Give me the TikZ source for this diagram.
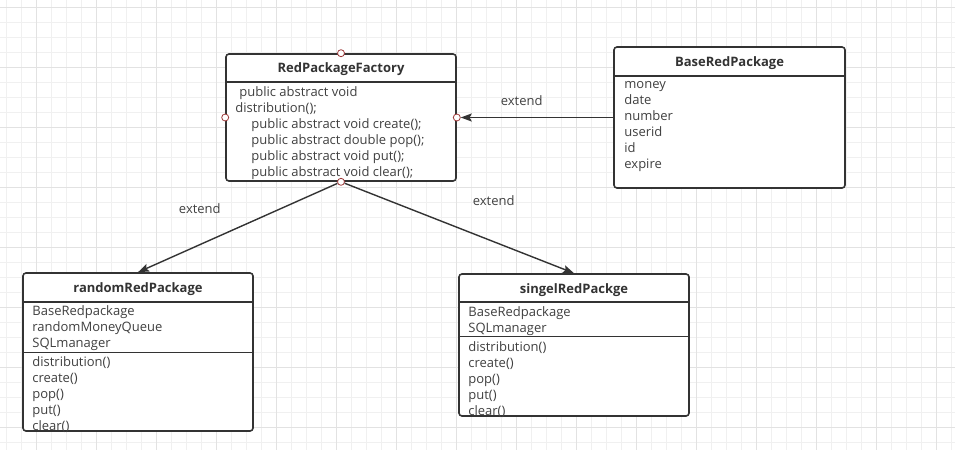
\documentclass[tikz,border=0pt]{standalone}
\usepackage{fontspec}
\setmainfont{Open Sans}
\usetikzlibrary{positioning}
\usetikzlibrary{calc}
\usetikzlibrary{arrows.meta}
\definecolor{gridminor}{HTML}{F0F0F0}
\definecolor{gridmajor}{HTML}{E2E2E2}
\definecolor{umlline}{HTML}{333333}
\definecolor{umltext}{HTML}{404040}
\definecolor{portred}{HTML}{9E3A3A}

\begin{document}
\begin{tikzpicture}[x = 1pt, y = -1pt, node distance = 1in, on grid,
	umlclass/.style = {rectangle, rounded corners = 3pt, draw = umlline, line width = 1.6pt, fill = white, minimum width = 230pt, inner sep = 0pt},
	classtitle/.style = {font = \fontsize{13}{15}\selectfont\bfseries, text = umlline, inner sep = 0pt},
	members/.style = {font = \fontsize{13}{16}\selectfont, text = umltext, align = left, anchor = north west, inner sep = 0pt},
	port/.style = {circle, draw = portred, fill = white, line width = 0.8pt, minimum size = 7pt, inner sep = 0pt},
	extlink/.style = {-{Stealth[length = 11pt, width = 8pt, inset = 2pt]}, umlline, line width = 1.4pt},
	lbl/.style = {font = \fontsize{13}{15}\selectfont, text = umltext, inner sep = 0pt}]
	\useasboundingbox (0,0) rectangle (955,450);
	\foreach \x in {6.7, 21.7, ..., 955} \draw[gridminor, line width = 0.8pt] (\x,0) -- (\x,450);
	\foreach \y in {7.3, 22.3, ..., 450} \draw[gridminor, line width = 0.8pt] (0,\y) -- (955,\y);
	\foreach \x in {36.7, 96.7, ..., 955} \draw[gridmajor, line width = 0.8pt] (\x,0) -- (\x,450);
	\foreach \y in {7.3, 67.3, ..., 450} \draw[gridmajor, line width = 0.8pt] (0,\y) -- (955,\y);
	\node[umlclass, minimum height = 127pt] (F) at (341,117.5) {};
	\node[umlclass, minimum height = 141pt, minimum width = 231pt] (B) [right = 388.5pt of F] {};
	\node[umlclass, minimum height = 158pt] (R) [below left = 234.5pt and 203pt of F] {};
	\node[umlclass, minimum height = 142pt] (S) [below right = 227.5pt and 233pt of F] {};
	\draw[umlline, line width = 1.6pt] ($(F.north west)+(0,29)$) -- ($(F.north east)+(0,29)$);
	\draw[umlline, line width = 1.6pt] ($(B.north west)+(0,30)$) -- ($(B.north east)+(0,30)$);
	\draw[umlline, line width = 1.6pt] ($(R.north west)+(0,30)$) -- ($(R.north east)+(0,30)$);
	\draw[umlline, line width = 1.4pt] ($(R.north west)+(0,80)$) -- ($(R.north east)+(0,80)$);
	\draw[umlline, line width = 1.6pt] ($(S.north west)+(0,29)$) -- ($(S.north east)+(0,29)$);
	\draw[umlline, line width = 1.4pt] ($(S.north west)+(0,63)$) -- ($(S.north east)+(0,63)$);
	\node[classtitle] (Ft) at ($(F.north)+(0,16)$) {RedPackageFactory};
	\node[classtitle] (Bt) at ($(B.north)+(0,16.5)$) {BaseRedPackage};
	\node[classtitle] (Rt) at ($(R.north)+(0,16.5)$) {randomRedPackage};
	\node[classtitle] (St) at ($(S.north)+(0,16.5)$) {singelRedPackge};
	\node[members] (Fm) at ($(F.north west)+(10,33)$) {\hspace{4pt}public abstract void\\distribution();\\\hspace{16pt}public abstract void create();\\\hspace{16pt}public abstract double pop();\\\hspace{16pt}public abstract void put();\\\hspace{16pt}public abstract void clear();};
	\node[members] (Bm) at ($(B.north west)+(11,35)$) {money\\date\\number\\userid\\id\\expire};
	\node[members] (Ra) at ($(R.north west)+(10,33)$) {BaseRedpackage\\randomMoneyQueue\\SQLmanager};
	\node[members] (Ro) at ($(R.north west)+(10,84)$) {distribution()\\create()\\pop()\\put()\\clear()};
	\node[members] (Sa) at ($(S.north west)+(10,33)$) {BaseRedpackage\\SQLmanager};
	\node[members] (So) at ($(S.north west)+(10,68)$) {distribution()\\create()\\pop()\\put()\\clear()};
	\node[port] (Fn) at (F.north) {};
	\node[port] (Fw) at (F.west) {};
	\node[port] (Fe) at (F.east) {};
	\node[port] (Fs) at (F.south) {};
	\draw[extlink] (B) -- node[lbl, pos = 0.6, above = 11pt] {extend} (Fe);
	\draw[extlink] (Fs) -- node[lbl, pos = 0.69, above = 30pt] {extend} (R.north);
	\draw[extlink] (Fs) -- node[lbl, pos = 0.65, above = 35pt] {extend} (S.north);
\end{tikzpicture}
\end{document}
